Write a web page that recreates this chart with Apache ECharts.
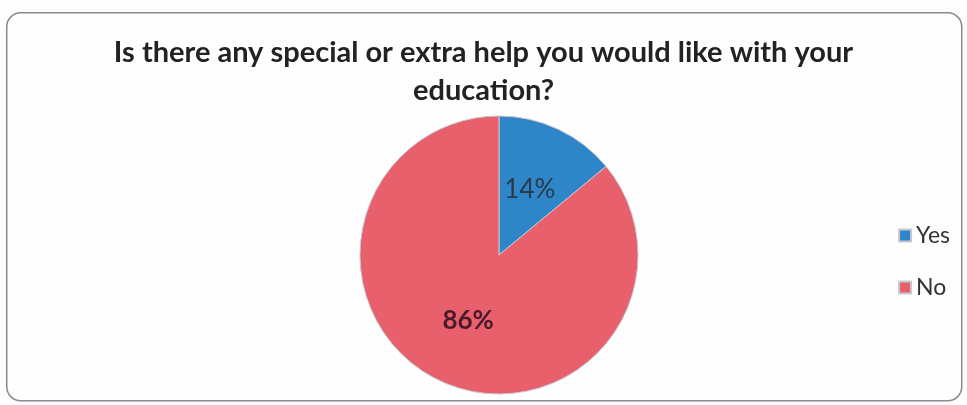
<!DOCTYPE html>
<html><head><meta charset="utf-8">
<script src="https://cdn.jsdelivr.net/npm/echarts@6/dist/echarts.min.js"></script>
<style>html,body{margin:0;padding:0;background:#fff}#c{width:967px;height:405px}</style>
</head><body><div id="c"></div>
<script>
const titleText = "Is there any special or extra help you would like with your\neducation?";
const categories = ["Yes", "No"];
const values = [14, 86];
const colors = ["#2e86c9", "#e9606d"];
const labelColors = ["#2a3a4a", "#4a1a2a"];

const chart = echarts.init(document.getElementById('c'));
chart.setOption({
  backgroundColor: '#fdfdfd',
  animation: false,
  graphic: [{
    type: 'rect', left: 6, top: 12,
    shape: { width: 955, height: 388, r: 14 },
    style: { fill: '#fefefe', stroke: '#8a8a94', lineWidth: 1.5 }
  }],
  title: {
    text: titleText, left: 'center', top: 29,
    textStyle: { fontFamily: 'Lato', fontWeight: 'bold', fontSize: 29, color: '#222', lineHeight: 38 }
  },
  legend: {
    orient: 'vertical', right: 12, top: 219, itemGap: 29,
    icon: 'rect', itemWidth: 12, itemHeight: 12,
    textStyle: { fontFamily: 'Lato', fontSize: 23, color: '#333' },
    data: categories
  },
  series: [{
    type: 'pie', center: [499, 255], radius: 139, startAngle: 90, clockwise: true,
    label: { show: true, position: 'inside', formatter: '{d}%', fontFamily: 'Lato', fontSize: 26 },
    labelLine: { show: false },
    itemStyle: { borderColor: '#c8c8d0', borderWidth: 1 },
    data: categories.map((c, i) => ({
      name: c, value: values[i],
      itemStyle: { color: colors[i] },
      label: { color: labelColors[i], fontWeight: i === 1 ? 'bold' : 'normal' }
    }))
  }]
});
</script></body></html>
